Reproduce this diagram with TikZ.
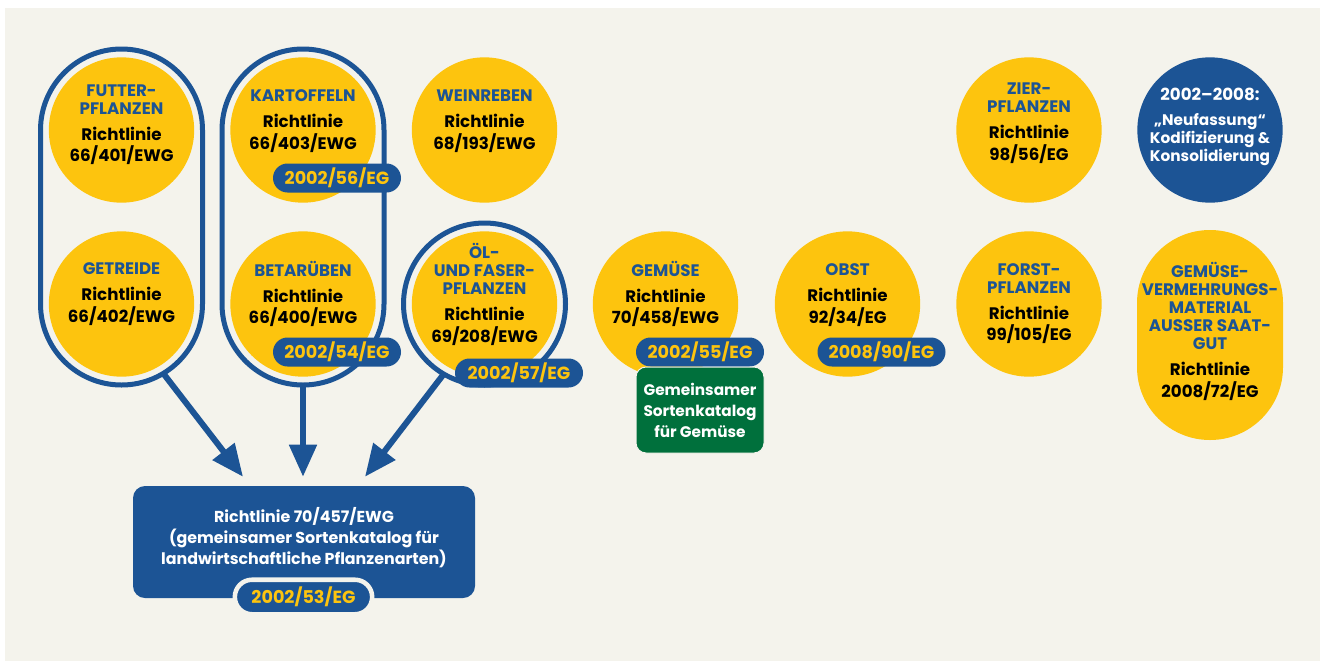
\documentclass[tikz,border=0pt]{standalone}
\usepackage{fontspec}
\setmainfont{Poppins}
\usetikzlibrary{positioning, calc, arrows.meta}
\definecolor{paper}{HTML}{F4F3EC}
\definecolor{euyellow}{HTML}{FDC40E}
\definecolor{eublue}{HTML}{1C5495}
\definecolor{eugreen}{HTML}{00703C}
\newcommand\hd[1]{\textcolor{eublue}{#1}}

\begin{document}
\begin{tikzpicture}[x=0.75pt, y=-0.75pt,
    disc/.style={circle, fill=euyellow, minimum size=109pt, inner sep=0pt},
    txt/.style={align=center, inner sep=0pt, font=\bfseries\fontsize{12.5}{13.5}\selectfont},
    frame/.style={draw=eublue, line width=3.75pt},
    pill/.style={fill=eublue, text=euyellow, rounded corners=10.9pt, minimum width=96pt,
                 minimum height=21.75pt, inner sep=0pt, font=\bfseries\fontsize{13.2}{14}\selectfont},
    flow/.style={eublue, line width=4.5pt, -{Triangle[length=24pt, width=20pt]}}]

    % ;- page ;-
    \useasboundingbox (0,0) rectangle (1320,661);
    \fill[white] (0,0) rectangle (1320,661);
    \fill[paper] (5,8) rectangle (1320,661);

    % ;- discs ;-
    \node[disc] (futter) at (121.5,130) {};
    \node[disc] (kartoffel) at (303,130) {};
    \node[disc] (wein) at (484.5,130) {};
    \node[disc] (zier) at (1029,130) {};
    \node[disc, fill=eublue] (neu) at (1210,130) {};
    \node[disc] (getreide) at (121.5,304) {};
    \node[disc] (beta) at (303,304) {};
    \node[disc] (oel) at (484.5,304) {};
    \node[disc] (gemuese) at (665.5,304) {};
    \node[disc] (obst) at (847.5,304) {};
    \node[disc] (forst) at (1029,304) {};
    \node[fill=euyellow, rounded corners=54.7pt, minimum width=109.5pt, minimum height=157.5pt,
          inner sep=0pt] (vermehr) at (1210,335) {};

    % frames round the groups
    \draw[frame, rounded corners=60.75pt] ($(futter)+(-81,-81)$) rectangle ($(getreide)+(81,81)$);
    \draw[frame, rounded corners=60.75pt] ($(kartoffel)+(-81,-81)$) rectangle ($(beta)+(81,81)$);
    \draw[frame] (oel) circle[radius=60.75pt];

    % ;- disc texts ;-
    \node[txt] (futter-t) at ($(futter)+(0,-5.3)$)
        {\hd{FUTTER-}\\\hd{PFLANZEN}\\[6pt]Richtlinie\\[2.7pt]66/401/EWG};
    \node[txt] (kartoffel-t) at ($(kartoffel)+(0,-8.8)$)
        {\hd{KARTOFFELN}\\[6pt]Richtlinie\\[2.7pt]66/403/EWG};
    \node[txt] (wein-t) at ($(wein)+(0,-8.5)$)
        {\hd{WEINREBEN}\\[6pt]Richtlinie\\[2.7pt]68/193/EWG};
    \node[txt] (zier-t) at ($(zier)+(0,-6.5)$)
        {\hd{ZIER-}\\\hd{PFLANZEN}\\[6pt]Richtlinie\\[2.7pt]98/56/EG};
    \node[txt, text=white] (neu-t) at ($(neu)+(0,-3)$)
        {2002--2008:\\[5pt]{\fontsize{11.5}{15}\selectfont „Neufassung“}\\
         {\fontsize{11.5}{15}\selectfont Kodifizierung \&}\\
         {\fontsize{11.5}{15}\selectfont Konsolidierung}};
    \node[txt] (getreide-t) at ($(getreide)+(0,-10)$)
        {\hd{GETREIDE}\\[6pt]Richtlinie\\[2.7pt]66/402/EWG};
    \node[txt] (beta-t) at ($(beta)+(0,-10)$)
        {\hd{BETARÜBEN}\\[6pt]Richtlinie\\[2.7pt]66/400/EWG};
    \node[txt] (oel-t) at ($(oel)+(0,-9.3)$)
        {\hd{ÖL-}\\\hd{UND FASER-}\\\hd{PFLANZEN}\\[6pt]Richtlinie\\[2.7pt]69/208/EWG};
    \node[txt] (gemuese-t) at ($(gemuese)+(0,-10)$)
        {\hd{GEMÜSE}\\[6pt]Richtlinie\\[2.7pt]70/458/EWG};
    \node[txt] (obst-t) at ($(obst)+(0,-9)$)
        {\hd{OBST}\\[6pt]Richtlinie\\[2.7pt]92/34/EG};
    \node[txt] (forst-t) at ($(forst)+(0,-0.5)$)
        {\hd{FORST-}\\\hd{PFLANZEN}\\[6pt]Richtlinie\\[2.7pt]99/105/EG};
    \node[txt] (vermehr-t) at ($(vermehr)+(0,-3.5)$)
        {\hd{GEMÜSE-}\\\hd{VERMEHRUNGS-}\\\hd{MATERIAL}\\\hd{AUSSER SAAT-}\\\hd{GUT}\\[6pt]Richtlinie\\[2.7pt]2008/72/EG};

    % ;- amending directives ;-
    \node[pill] (p56) at (337,178) {2002/56/EG};
    \node[pill] (p54) at (337,352) {2002/54/EG};
    \node[pill] (p57) at (519,373) {2002/57/EG};
    \node[pill] (p55) at (700,352) {2002/55/EG};
    \node[pill] (p90) at (881.5,352) {2008/90/EG};
    \node[fill=eugreen, draw=paper, line width=0.75pt, rounded corners=7.5pt, minimum width=96pt,
          minimum height=64.5pt, inner sep=0pt, align=center, text=white,
          font=\bfseries\fontsize{11.5}{15.75}\selectfont] (sorten) at (700,410)
        {Gemeinsamer\\Sortenkatalog\\für Gemüse};

    % ;- common catalogue ;-
    \node[fill=eublue, rounded corners=9pt, minimum width=256.5pt, minimum height=84pt] (katalog) at (304,542) {};
    \node[txt, text=white, font=\bfseries\fontsize{11.9}{15.75}\selectfont] (katalog-t) at (304,538)
        {Richtlinie 70/457/EWG\\(gemeinsamer Sortenkatalog für\\landwirtschaftliche Pflanzenarten)};
    \node[pill, draw=paper, line width=3.4pt, minimum width=103pt, minimum height=25.9pt,
          rounded corners=12.9pt] (p53) at (303.5,597) {2002/53/EG};

    % ;- arrows into the catalogue ;-
    \coordinate (futterfoot) at ($(getreide)+(41.5,69)$);
    \coordinate (betafoot) at ($(beta)+(0,81)$);
    \coordinate (oelfoot) at ($(oel)+(-41.5,71)$);
    \coordinate (tip-a) at ($(katalog.north)+(-61,-9)$);
    \coordinate (tip-b) at ($(katalog.north)+(-1,-9)$);
    \coordinate (tip-c) at ($(katalog.north)+(61,-9)$);
    \draw[flow] (futterfoot) -- (tip-a);
    \draw[flow] (betafoot) -- (tip-b);
    \draw[flow] (oelfoot) -- (tip-c);

\end{tikzpicture}
\end{document}
